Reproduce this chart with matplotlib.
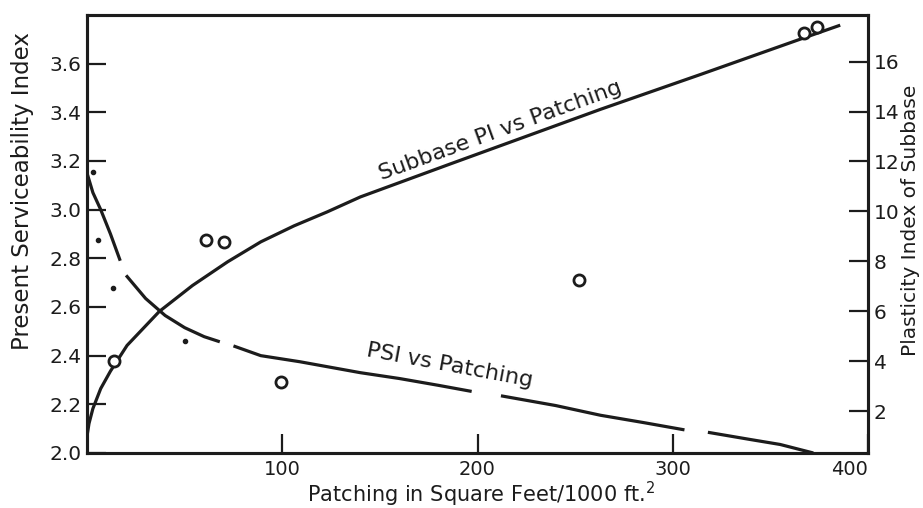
import numpy as np
import matplotlib
matplotlib.use("Agg")
import matplotlib.pyplot as plt

# Patching (sq ft / 1000 sq ft) vs PSI and subbase plasticity index
x_ticks = [100, 200, 300, 400]
psi_ticks = [2.0, 2.2, 2.4, 2.6, 2.8, 3.0, 3.2, 3.4, 3.6]
pi_ticks = [2, 4, 6, 8, 10, 12, 14, 16]

# PSI curve, drawn as separate pen strokes
psi_curve_segments = [
    ([0, 3, 7, 12, 17], [3.15, 3.07, 3.0, 2.9, 2.79]),
    ([20, 30, 40, 50, 60, 68], [2.73, 2.635, 2.565, 2.515, 2.478, 2.457]),
    ([75, 89, 109, 140, 160, 180, 197], [2.44, 2.40, 2.375, 2.33, 2.306, 2.278, 2.253]),
    ([212, 240, 263, 285, 306], [2.235, 2.195, 2.155, 2.125, 2.095]),
    ([318, 340, 355, 372], [2.085, 2.055, 2.035, 2.0]),
]

# Subbase PI curve
pi_curve_x = [0, 1, 3, 7, 12, 20.5, 37, 54, 72, 89, 106, 123, 140, 186, 237, 263, 314, 366, 385]
pi_curve_y = [1.0, 1.5, 2.1, 2.9, 3.6, 4.63, 5.99, 7.03, 7.98, 8.78, 9.42, 9.98, 10.58,
              11.9, 13.35, 14.09, 15.48, 16.92, 17.44]

# Observations
psi_obs_x = [3, 5.6, 13.5, 50]
psi_obs_y = [3.155, 2.877, 2.68, 2.46]
pi_obs_x = [13.8, 61, 70, 99.5, 252, 367, 374]
pi_obs_y = [4.0, 8.86, 8.78, 3.16, 7.27, 17.16, 17.4]

ink = "#1c1c1c"
plt.rcParams["font.family"] = ["DejaVu Sans"]

W, H = 923, 508
fig = plt.figure(figsize=(W / 100, H / 100), dpi=100)
ax = fig.add_axes([0.0943, 0.1083, 0.8461, 0.8622])
ax2 = ax.twinx()

for xs, ys in psi_curve_segments:
    ax.plot(xs, ys, color=ink, lw=2.3, solid_capstyle="butt")
ax.plot(psi_obs_x, psi_obs_y, "o", color=ink, ms=3)

ax2.plot(pi_curve_x, pi_curve_y, color=ink, lw=2.3)
ax2.plot(pi_obs_x, pi_obs_y, "o", mfc="white", mec=ink, mew=2, ms=8)

ax.set_xlim(0, 400)
ax.set_ylim(2.0, 3.8)
ax2.set_ylim(0.32, 17.87)

ax.set_xticks(x_ticks)
ax.set_xticklabels([str(v) for v in x_ticks])
ax.set_yticks(psi_ticks)
ax.set_yticklabels([f"{v:.1f}" for v in psi_ticks])
ax2.set_yticks(pi_ticks)
ax2.set_yticklabels([str(v) for v in pi_ticks])

ax.tick_params(axis="x", direction="in", length=14, width=1.6, colors=ink,
               labelsize=14, pad=5)
ax.tick_params(axis="y", direction="in", length=14, width=1.6, colors=ink,
               labelsize=14.5, pad=4)
ax2.tick_params(axis="y", direction="in", length=14, width=1.6, colors=ink,
                labelsize=14.5, pad=4)
ax.xaxis.get_ticklabels()[-1].set_horizontalalignment("right")
ax.xaxis.get_ticklabels()[-1].set_x(400)

for a in (ax, ax2):
    for s in a.spines.values():
        s.set_linewidth(2.2)
        s.set_color(ink)

# Axis titles placed by pixel centre
fig.text(481 / W, 1 - 494 / H, "Patching in Square Feet/1000 ft.$^2$",
         fontsize=15, color=ink, ha="center", va="center")
fig.text(23 / W, 1 - 191 / H, "Present Serviceability Index",
         fontsize=16.5, color=ink, ha="center", va="center", rotation=90)
fig.text(910 / W, 1 - 220 / H, "Plasticity Index of Subbase",
         fontsize=14.5, color=ink, ha="center", va="center", rotation=90)

# Curve labels
ax.text(0.529, 0.736, "Subbase PI vs Patching", transform=ax.transAxes,
        rotation=20, ha="center", va="center", fontsize=16, color=ink)
ax.text(0.465, 0.199, "PSI vs Patching", transform=ax.transAxes,
        rotation=-10.5, ha="center", va="center", fontsize=16, color=ink)

fig.savefig("out.png", dpi=100)
